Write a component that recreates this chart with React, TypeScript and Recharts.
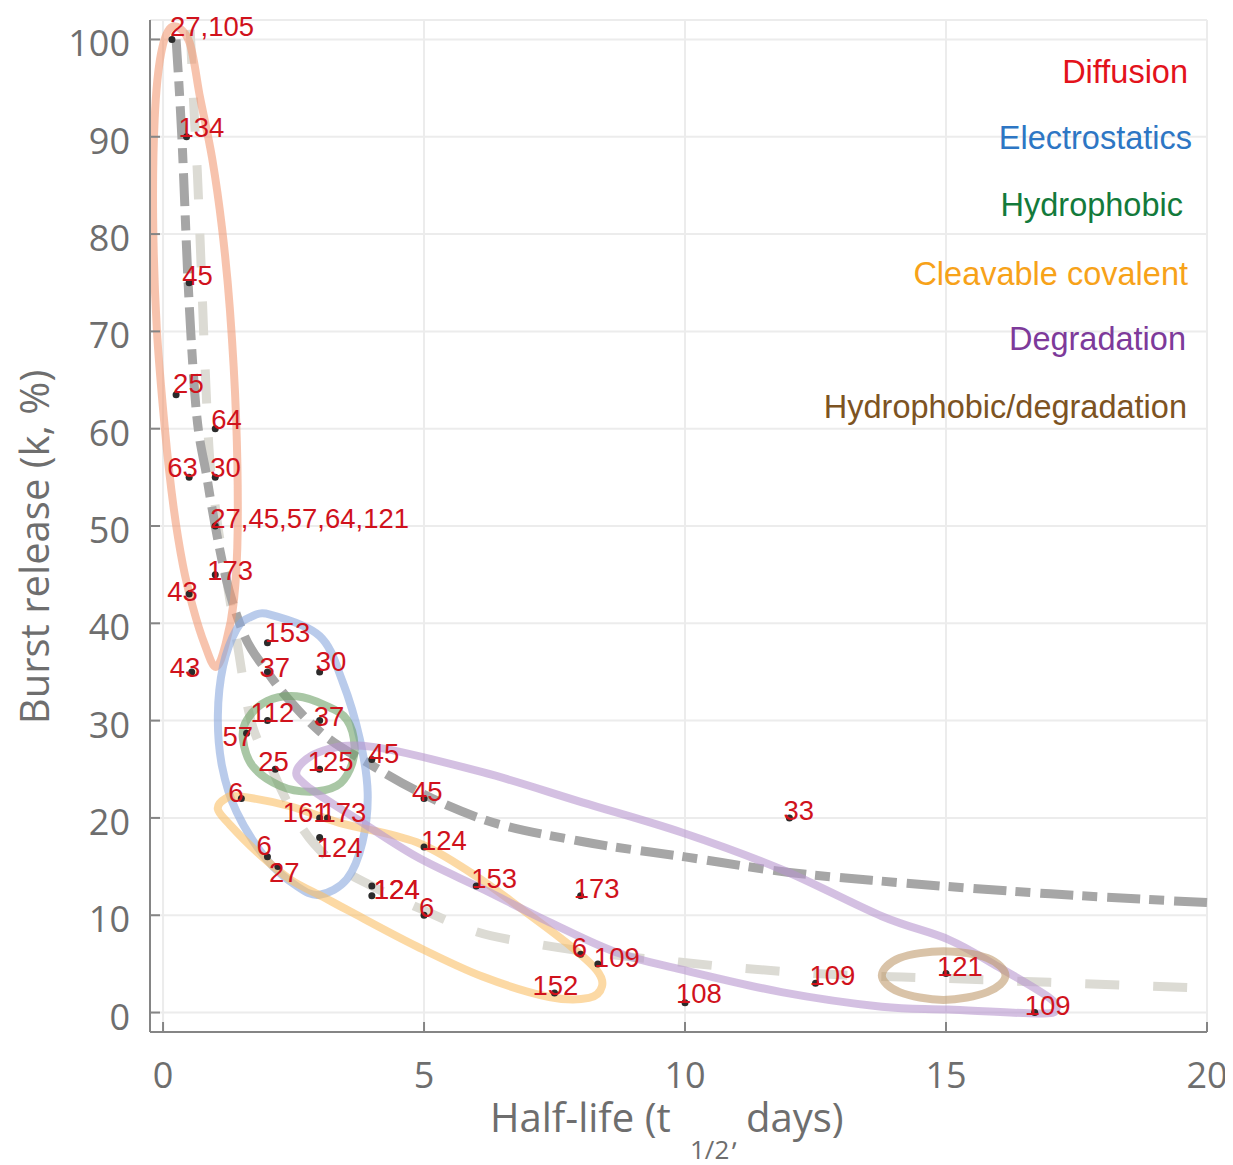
import { CartesianGrid, ComposedChart, Line, Scatter, XAxis, YAxis } from "recharts";

// ---- data ----
const X_TICKS = [0, 5, 10, 15, 20];
const Y_TICKS = [0, 10, 20, 30, 40, 50, 60, 70, 80, 90, 100];

// each study: half-life (days), burst release (%), reference numbers
const STUDIES = [
  { x: 0.17, y: 100, ref: "27,105" },
  { x: 0.45, y: 90, ref: "134" },
  { x: 0.5, y: 75, ref: "45" },
  { x: 0.25, y: 63.5, ref: "25" },
  { x: 1, y: 60, ref: "64" },
  { x: 0.5, y: 55, ref: "63" },
  { x: 1, y: 55, ref: "30" },
  { x: 1, y: 50, ref: "27,45,57,64,121" },
  { x: 1, y: 45, ref: "173" },
  { x: 0.5, y: 43, ref: "43" },
  { x: 0.55, y: 35, ref: "43" },
  { x: 2, y: 38, ref: "153" },
  { x: 2, y: 35, ref: "37" },
  { x: 3, y: 35, ref: "30" },
  { x: 2, y: 30, ref: "112" },
  { x: 3, y: 30, ref: "37" },
  { x: 1.6, y: 28.7, ref: "57" },
  { x: 2.15, y: 25, ref: "25" },
  { x: 3, y: 25, ref: "125" },
  { x: 4, y: 26, ref: "45" },
  { x: 1.5, y: 22, ref: "6" },
  { x: 5, y: 22, ref: "45" },
  { x: 3, y: 20, ref: "161" },
  { x: 3.15, y: 20, ref: "173" },
  { x: 3, y: 18, ref: "124" },
  { x: 2, y: 16, ref: "6" },
  { x: 2.2, y: 15, ref: "27" },
  { x: 4, y: 13, ref: "124" },
  { x: 4, y: 12, ref: "124" },
  { x: 5, y: 10, ref: "6" },
  { x: 5, y: 17, ref: "124" },
  { x: 6, y: 13, ref: "153" },
  { x: 8, y: 12, ref: "173" },
  { x: 8, y: 6, ref: "6" },
  { x: 8.33, y: 5, ref: "109" },
  { x: 7.5, y: 2, ref: "152" },
  { x: 10, y: 1, ref: "108" },
  { x: 12, y: 20, ref: "33" },
  { x: 12.5, y: 3, ref: "109" },
  { x: 15, y: 4, ref: "121" },
  { x: 16.7, y: 0, ref: "109" },
];

// trend curves
const UPPER_TREND = [
  { x: 0.25, y: 100 }, { x: 0.36, y: 90 }, { x: 0.48, y: 75 }, { x: 0.61, y: 63.5 },
  { x: 0.84, y: 55 }, { x: 1, y: 50 }, { x: 1.19, y: 45 }, { x: 1.5, y: 39.5 },
  { x: 2, y: 35 }, { x: 2.5, y: 31.6 }, { x: 3, y: 28.9 }, { x: 4, y: 25.4 },
  { x: 5, y: 22.4 }, { x: 6, y: 20.1 }, { x: 8, y: 17.6 }, { x: 10, y: 16 },
  { x: 12, y: 14.4 }, { x: 14, y: 13.4 }, { x: 17, y: 12.2 }, { x: 20, y: 11.3 },
];

const LOWER_TREND = [
  { x: 0.52, y: 101 }, { x: 0.6, y: 92 }, { x: 0.66, y: 86 }, { x: 0.72, y: 78 },
  { x: 0.8, y: 67 }, { x: 0.88, y: 58 }, { x: 1, y: 52 }, { x: 1.2, y: 45 },
  { x: 1.45, y: 37 }, { x: 1.6, y: 32 }, { x: 2.05, y: 25.5 }, { x: 2.6, y: 19.5 },
  { x: 3.5, y: 14.5 }, { x: 4, y: 13 }, { x: 5, y: 10.5 }, { x: 6, y: 8.3 },
  { x: 7.2, y: 7 }, { x: 8.5, y: 6 }, { x: 9.7, y: 5.3 }, { x: 11, y: 4.6 },
  { x: 12.5, y: 4 }, { x: 15, y: 3.5 }, { x: 17.5, y: 3 }, { x: 20, y: 2.5 },
];

// group outlines
const DIFFUSION_RING = [
  { x: 0.17, y: 101.3 }, { x: 0.5, y: 99.8 }, { x: 0.71, y: 94 }, { x: 0.94, y: 87.8 },
  { x: 1.13, y: 80.6 }, { x: 1.28, y: 72.3 }, { x: 1.4, y: 61 }, { x: 1.43, y: 49.7 },
  { x: 1.36, y: 42.5 }, { x: 1.2, y: 37.9 }, { x: 1.01, y: 35.5 }, { x: 0.8, y: 37.8 },
  { x: 0.58, y: 41.5 }, { x: 0.38, y: 46 }, { x: 0.2, y: 52 }, { x: 0.04, y: 59.7 },
  { x: -0.12, y: 70.3 }, { x: -0.19, y: 81.6 }, { x: -0.16, y: 91.9 }, { x: -0.04, y: 98.5 },
];

const ELECTRO_RING = [
  { x: 2.05, y: 40.9 }, { x: 3, y: 38.7 }, { x: 3.44, y: 34 }, { x: 3.77, y: 28.1 },
  { x: 3.92, y: 22.6 }, { x: 3.82, y: 17.5 }, { x: 3.52, y: 13.7 }, { x: 3, y: 12.1 },
  { x: 2.56, y: 13 }, { x: 1.99, y: 15.7 }, { x: 1.41, y: 20.6 }, { x: 1.13, y: 25.3 },
  { x: 1.05, y: 30.5 }, { x: 1.15, y: 35.6 }, { x: 1.41, y: 39.4 }, { x: 1.66, y: 40.6 },
];

const HYDRO_RING = [
  { x: 2.56, y: 32.5 }, { x: 3.14, y: 31.5 }, { x: 3.52, y: 30.1 }, { x: 3.67, y: 27.4 },
  { x: 3.58, y: 25 }, { x: 3.33, y: 23.3 }, { x: 2.81, y: 22.7 }, { x: 2.24, y: 23.3 },
  { x: 1.72, y: 25.3 }, { x: 1.53, y: 28.1 }, { x: 1.61, y: 30.1 }, { x: 1.99, y: 32 },
];

const CLEAVABLE_RING = [
  { x: 1.2, y: 22 }, { x: 1.47, y: 22.2 }, { x: 2.43, y: 21.2 }, { x: 3.38, y: 19.5 },
  { x: 4.86, y: 17.5 }, { x: 6, y: 14 }, { x: 6.88, y: 10.6 }, { x: 7.72, y: 7.2 },
  { x: 8.3, y: 4.4 }, { x: 8.41, y: 2.7 }, { x: 8.16, y: 1.5 }, { x: 7.4, y: 1.6 },
  { x: 6.12, y: 3.7 }, { x: 4.86, y: 6.8 }, { x: 3.58, y: 10.4 }, { x: 3.06, y: 11.9 },
  { x: 2.43, y: 13.7 }, { x: 1.8, y: 16.5 }, { x: 1.28, y: 19.3 }, { x: 1.05, y: 20.9 },
];

const DEGRADATION_RING = [
  { x: 2.57, y: 25 }, { x: 3.06, y: 26.9 }, { x: 4.02, y: 27.3 }, { x: 6.12, y: 24.7 },
  { x: 8.03, y: 21.6 }, { x: 9.94, y: 18.5 }, { x: 11.85, y: 14.7 }, { x: 13.77, y: 9.9 },
  { x: 15.05, y: 7.5 }, { x: 16, y: 4.7 }, { x: 16.96, y: 1.6 }, { x: 17.11, y: 0.3 },
  { x: 16.77, y: -0.1 }, { x: 15.05, y: 0.3 }, { x: 13.77, y: 0.6 }, { x: 11.85, y: 2.1 },
  { x: 9.94, y: 4.4 }, { x: 8.68, y: 6.2 }, { x: 7.4, y: 9.3 }, { x: 6.12, y: 12.7 },
  { x: 4.86, y: 16 }, { x: 3.71, y: 19.9 }, { x: 2.75, y: 23.3 },
];

const HYDRO_DEGRAD_RING = [
  { x: 13.77, y: 3.8 }, { x: 14.11, y: 5.6 }, { x: 14.95, y: 6.3 }, { x: 15.79, y: 5.6 },
  { x: 16.14, y: 3.8 }, { x: 15.79, y: 2.1 }, { x: 14.95, y: 1.3 }, { x: 14.11, y: 2.1 },
];

const GROUP_NAMES = [
  "Diffusion",
  "Electrostatics",
  "Hydrophobic",
  "Cleavable covalent",
  "Degradation",
  "Hydrophobic/degradation",
];
const GROUP_RINGS = [
  DIFFUSION_RING,
  ELECTRO_RING,
  HYDRO_RING,
  CLEAVABLE_RING,
  DEGRADATION_RING,
  HYDRO_DEGRAD_RING,
];

// ---- styling ----
const TEXT_COLORS = ["#e3121b", "#2d76c4", "#137a3b", "#f7a219", "#7d3a9a", "#7d5322"];
const RING_COLORS = ["#f29b76", "#8aa8de", "#70a269", "#fac067", "#b796cf", "#c09b6e"];
const LEGEND_BASELINES = [75, 141, 208, 277, 342, 410];
const LEGEND_RIGHT = [1180, 1184, 1175, 1180, 1178, 1179];
const AXIS_GREY = "#6e6e6e";
const SANS = "'Open Sans', 'DejaVu Sans', sans-serif";
const ARIAL = "'Liberation Sans', Arial, sans-serif";

// label offsets (px) from the dot for crowded spots; default [-5, 2]
const LABEL_NUDGE: Record<string, [number, number]> = {
  "0.17|100": [-2, -3],
  "0.45|90": [-8, 0],
  "0.5|75": [-7, 2],
  "0.25|63.5": [-3, -2],
  "1|60": [-4, 0],
  "0.5|55": [-22, 0],
  "1|55": [-5, 0],
  "1|45": [-8, 5],
  "0.5|43": [-22, 7],
  "0.55|35": [-22, 5],
  "2|38": [-3, -1],
  "2|35": [-8, 5],
  "3|35": [-4, -1],
  "2|30": [-17, 1],
  "3|30": [-6, 5],
  "1.6|28.7": [-24, 13],
  "2.15|25": [-17, 2],
  "3|25": [-12, 2],
  "4|26": [-3, 3],
  "1.5|22": [-13, 4],
  "5|22": [-12, 3],
  "3|20": [-37, 4],
  "3.15|20": [-7, 4],
  "3|18": [-3, 20],
  "2|16": [-11, -2],
  "2.2|15": [-9, 15],
  "4|13": [2, 12.73],
  "4|12": [2, 3],
  "5|17": [-3, 3],
  "8|12": [-7, 2],
  "8|6": [-9, 3],
  "8.33|5": [-4, 3],
  "7.5|2": [-22, 2],
  "10|1": [-9, 0],
  "12|20": [-6, 2],
  "12.5|3": [-6, 2],
  "15|4": [-9, 2],
  "16.7|0": [-10, 2],
};

// closed Catmull-Rom curve so the traced outlines come out as smooth loops
const closedLoop = (context: any) => {
  let pts: number[][] = [];
  return {
    areaStart() {},
    areaEnd() {},
    lineStart() {
      pts = [];
    },
    point(x: number, y: number) {
      pts.push([+x, +y]);
    },
    lineEnd() {
      const n = pts.length;
      if (n < 3) return;
      context.moveTo(pts[0][0], pts[0][1]);
      for (let i = 0; i < n; i++) {
        const p0 = pts[(i + n - 1) % n];
        const p1 = pts[i];
        const p2 = pts[(i + 1) % n];
        const p3 = pts[(i + 2) % n];
        context.bezierCurveTo(
          p1[0] + (p2[0] - p0[0]) / 6,
          p1[1] + (p2[1] - p0[1]) / 6,
          p2[0] - (p3[0] - p1[0]) / 6,
          p2[1] - (p3[1] - p1[1]) / 6,
          p2[0],
          p2[1]
        );
      }
      context.closePath();
    },
  };
};

const XTick = ({ x, y, payload }: any) => (
  <text x={x} y={y} dy={26} textAnchor="middle" fontFamily={SANS} fontSize={36} fill={AXIS_GREY}>
    {payload.value}
  </text>
);

const YTick = ({ x, y, payload }: any) => (
  <text x={x} y={y} dy={17} textAnchor="end" fontFamily={SANS} fontSize={36} fill={AXIS_GREY}>
    {payload.value}
  </text>
);

const StudyDot = (props: any) => {
  const { cx, cy, payload } = props;
  if (cx == null || cy == null) return null;
  const [dx, dy] = LABEL_NUDGE[`${payload.x}|${payload.y}`] ?? [-5, 2];
  return (
    <g>
      <circle cx={cx} cy={cy} r={3.5} fill="#2b2b2b" />
      <text x={cx + dx} y={cy + dy} fontFamily={ARIAL} fontSize={27.5} fill="#d0121c">
        {payload.ref}
      </text>
    </g>
  );
};

const W = 1225;
const H = 1157;

export default function App() {
  return (
    <div style={{ position: "relative", width: W, height: H }}>
      <ComposedChart width={W} height={H} margin={{ top: 12, right: 26, bottom: 0, left: 0 }}>
        <CartesianGrid stroke="#ececec" strokeWidth={2} />
        <XAxis
          type="number"
          dataKey="x"
          domain={[-0.25, 20]}
          ticks={X_TICKS}
          interval={0}
          height={133}
          stroke="#858585"
          strokeWidth={2}
          tickSize={-10}
          tickMargin={40}
          tick={<XTick />}
        />
        <YAxis
          type="number"
          dataKey="y"
          domain={[-2, 102]}
          ticks={Y_TICKS}
          interval={0}
          width={142}
          stroke="#858585"
          strokeWidth={2}
          tickSize={-10}
          tickMargin={30}
          tick={<YTick />}
        />
        <Line
          data={LOWER_TREND}
          dataKey="y"
          type="monotone"
          stroke="#dcdbd4"
          strokeWidth={9}
          strokeDasharray="34 34"
          dot={false}
          activeDot={false}
          isAnimationActive={false}
        />
        <Line
          data={UPPER_TREND}
          dataKey="y"
          type="monotone"
          stroke="#a6a6a6"
          strokeWidth={9}
          strokeDasharray="33 9 15 10"
          dot={false}
          activeDot={false}
          isAnimationActive={false}
        />
        {GROUP_RINGS.map((ring, i) => (
          <Line
            key={GROUP_NAMES[i]}
            name={GROUP_NAMES[i]}
            data={ring}
            dataKey="y"
            type={closedLoop as any}
            stroke={RING_COLORS[i]}
            strokeOpacity={0.6}
            strokeWidth={8}
            dot={false}
            activeDot={false}
            isAnimationActive={false}
          />
        ))}
        <Scatter data={STUDIES} dataKey="y" shape={<StudyDot />} isAnimationActive={false} />
      </ComposedChart>

      <svg
        width={W}
        height={H}
        style={{ position: "absolute", left: 0, top: 0, pointerEvents: "none" }}
      >
        {GROUP_NAMES.map((name, i) => (
          <text
            key={name}
            x={LEGEND_RIGHT[i]}
            y={LEGEND_BASELINES[i]}
            textAnchor="end"
            fontFamily={ARIAL}
            fontSize={32.5}
            fill={TEXT_COLORS[i]}
          >
            {name}
          </text>
        ))}
        <text
          transform="translate(41,539) rotate(-90)"
          textAnchor="middle"
          fontFamily={SANS}
          fontSize={40}
          fill={AXIS_GREY}
        >
          Burst release (k, %)
        </text>
        <text x={482} y={1124} fontFamily={SANS} fontSize={40} fill={AXIS_GREY}>
          Half-life (t
          <tspan x={682} y={1151} fontSize={26}>
            1/2
          </tspan>
          <tspan x={723} y={1137} fontSize={28}>
            ,
          </tspan>
          <tspan x={738} y={1124}>
            days)
          </tspan>
        </text>
      </svg>
    </div>
  );
}
